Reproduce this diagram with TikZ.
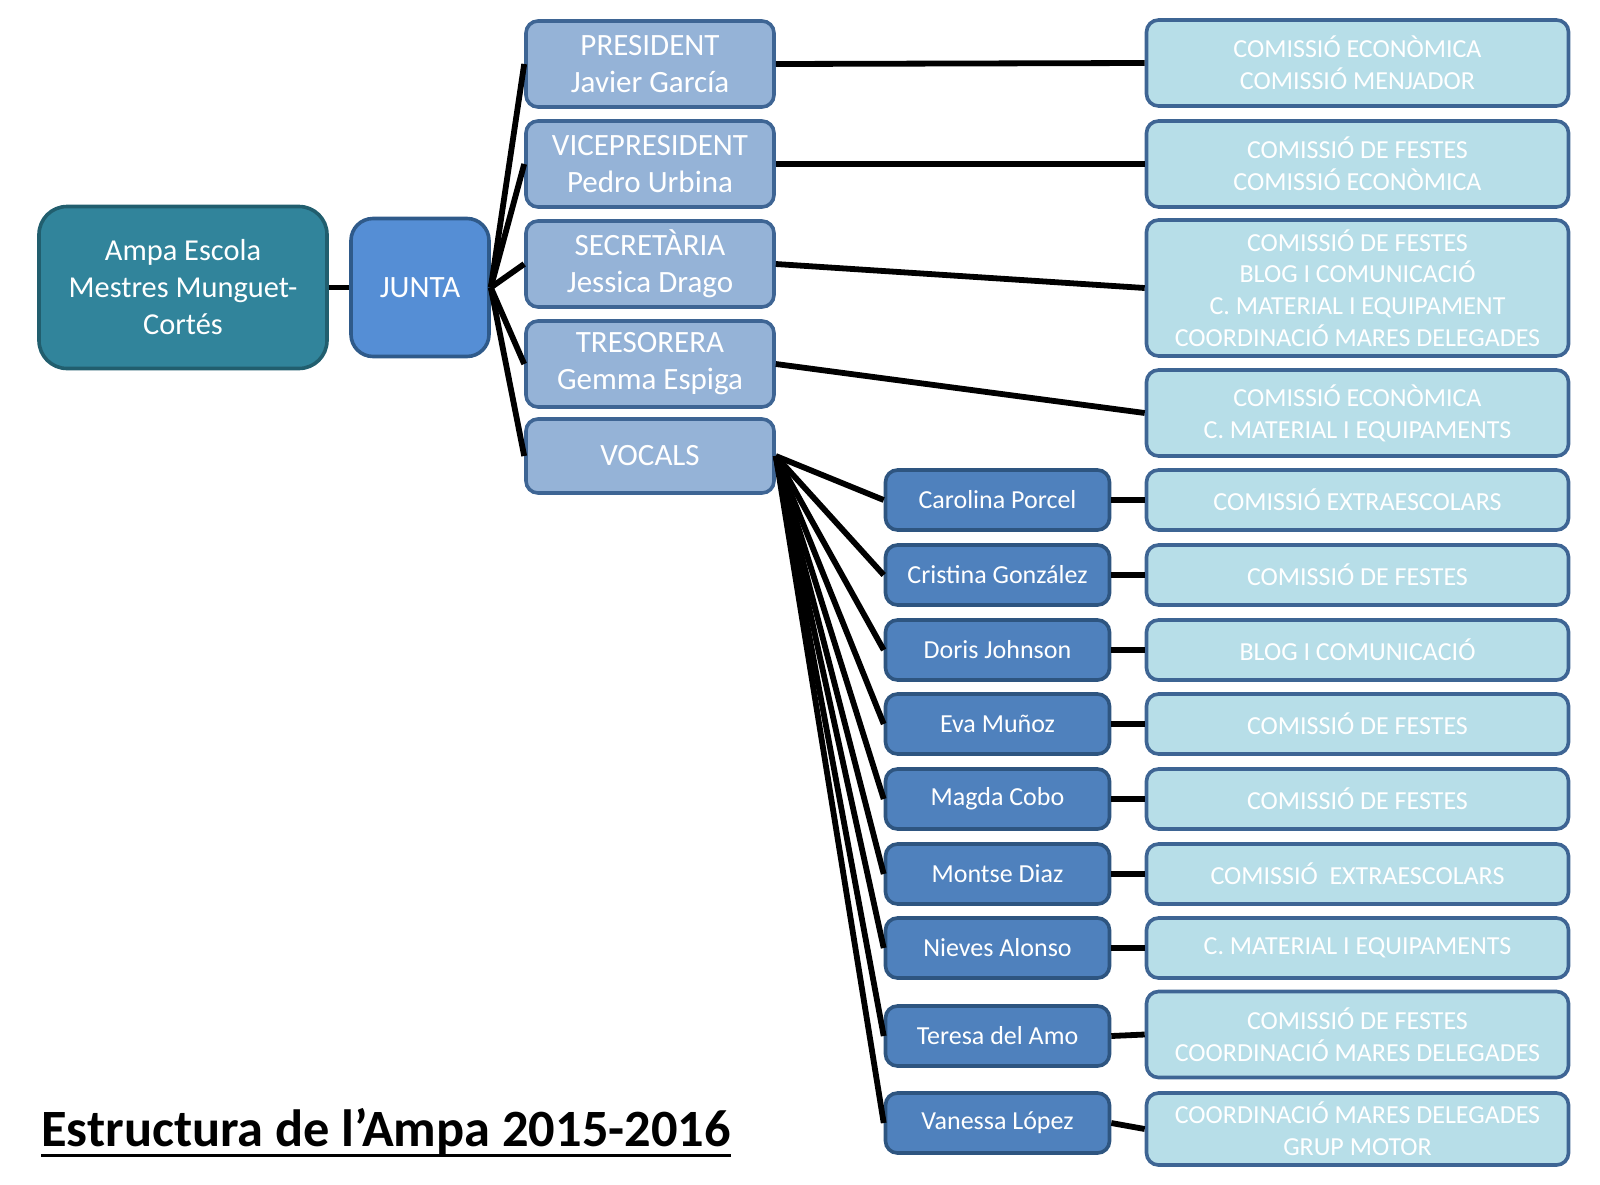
\documentclass[tikz,border=0pt]{standalone}
\usepackage{fontspec}
\setmainfont{Carlito}
\definecolor{ampaF}{HTML}{31849B}
\definecolor{ampaD}{HTML}{215E6E}
\definecolor{juntaF}{HTML}{558ED5}
\definecolor{juntaD}{HTML}{2F5A8A}
\definecolor{midF}{HTML}{95B3D7}
\definecolor{midD}{HTML}{3E6594}
\definecolor{perF}{HTML}{4F81BD}
\definecolor{perD}{HTML}{2E5580}
\definecolor{comF}{HTML}{B7DEE8}
\definecolor{comD}{HTML}{3E6594}
\tikzset{
  box/.style={rounded corners=6pt, line width=1.8pt, text=white, align=center, inner sep=0pt},
  ampabox/.style={box, fill=ampaF, draw=ampaD, rounded corners=14pt, minimum width=144pt, minimum height=81pt, font=\fontsize{15.2}{18.5}\selectfont},
  juntabox/.style={box, fill=juntaF, draw=juntaD, rounded corners=11pt, minimum width=69pt, minimum height=69pt, font=\fontsize{15.5}{18.5}\selectfont},
  midbox/.style={box, fill=midF, draw=midD, minimum width=124pt, minimum height=43pt, font=\fontsize{15.5}{18.5}\selectfont},
  perbox/.style={box, fill=perF, draw=perD, minimum width=112pt, minimum height=30pt, font=\fontsize{13}{16}\selectfont},
  combox/.style={box, fill=comF, draw=comD, minimum width=211pt, minimum height=43pt, font=\fontsize{13}{15.9}\selectfont},
  con/.style={line width=2.9pt, black},
}
\begin{document}
\begin{tikzpicture}[x=0.5pt,y=-0.5pt]
\useasboundingbox (0,0) rectangle (1600,1184);

\node[ampabox] (ampa) at (183,287.5) {Ampa Escola\\Mestres Munguet-\\Cortés};
\node[juntabox] (junta) at (420,287.5) {JUNTA};

\node[midbox] (pres) at (650,64) {PRESIDENT\\Javier García};
\node[midbox] (vp) at (650,164) {VICEPRESIDENT\\Pedro Urbina};
\node[midbox] (sec) at (650,264) {SECRETÀRIA\\Jessica Drago};
\node[midbox] (tres) at (650,364) {TRESORERA\\Gemma Espiga};
\node[midbox, minimum height=37pt] (voc) at (650,456) {VOCALS};

\node[combox] (r1) at (1357.5,63) {COMISSIÓ ECONÒMICA\\COMISSIÓ MENJADOR};
\node[combox] (r2) at (1357.5,164) {COMISSIÓ DE FESTES\\COMISSIÓ ECONÒMICA};
\node[combox, minimum height=68pt] (r3) at (1357.5,288) {COMISSIÓ DE FESTES\\BLOG I COMUNICACIÓ\\C. MATERIAL I EQUIPAMENT\\COORDINACIÓ MARES DELEGADES};
\node[combox] (r4) at (1357.5,413) {COMISSIÓ ECONÒMICA\\C. MATERIAL I EQUIPAMENTS};

\node[perbox] (p1) at (997.5,500) {Carolina Porcel};
\node[perbox] (p2) at (997.5,575) {Cristina González};
\node[perbox] (p3) at (997.5,650) {Doris Johnson};
\node[perbox] (p4) at (997.5,724) {Eva Muñoz};
\node[perbox] (p5) at (997.5,799) {Magda Cobo};
\node[perbox] (p6) at (997.5,874) {Montse Diaz};
\node[perbox] (p7) at (997.5,948) {Nieves Alonso};
\node[perbox] (p8) at (997.5,1036) {Teresa del Amo};
\node[perbox] (p9) at (997.5,1123) {Vanessa López};

\node[combox, minimum height=30pt] (c1) at (1357.5,500) {COMISSIÓ EXTRAESCOLARS};
\node[combox, minimum height=30pt] (c2) at (1357.5,575) {COMISSIÓ DE FESTES};
\node[combox, minimum height=30pt] (c3) at (1357.5,650) {BLOG I COMUNICACIÓ};
\node[combox, minimum height=30pt] (c4) at (1357.5,724) {COMISSIÓ DE FESTES};
\node[combox, minimum height=30pt] (c5) at (1357.5,799) {COMISSIÓ DE FESTES};
\node[combox, minimum height=30pt] (c6) at (1357.5,874) {COMISSIÓ\ \ EXTRAESCOLARS};
\node[combox, minimum height=30pt] (c7) at (1357.5,948) {C. MATERIAL I EQUIPAMENTS};
\node[combox] (c8) at (1357.5,1034.5) {COMISSIÓ DE FESTES\\COORDINACIÓ MARES DELEGADES};
\node[combox, minimum height=36pt] (c9) at (1357.5,1129) {COORDINACIÓ MARES DELEGADES\\GRUP MOTOR};

\node[anchor=base west, inner sep=0pt, font=\fontsize{26.2}{30}\selectfont\bfseries] (title) at (41,1146) {Estructura de l’Ampa 2015-2016};
\draw[line width=1.5pt] ([yshift=-4.5pt]title.base west) -- ([yshift=-4.5pt]title.base east);

\begin{scope}[on background layer/.try]
\draw[con] (ampa) -- (junta);
\foreach \m in {pres,vp,sec,tres,voc} \draw[con] (junta.east) -- (\m.west);
\draw[con] (pres.east) -- (r1.west);
\draw[con] (vp.east) -- (r2.west);
\draw[con] (sec.east) -- (r3.west);
\draw[con] (tres.east) -- (r4.west);
\foreach \p in {p1,p2,p3,p4,p5,p6,p7,p8,p9} \draw[con] (voc.east) -- (\p.west);
\foreach \p/\c in {p1/c1,p2/c2,p3/c3,p4/c4,p5/c5,p6/c6,p7/c7,p8/c8,p9/c9} \draw[con] (\p.east) -- (\c.west);
\end{scope}
\end{tikzpicture}
\end{document}
